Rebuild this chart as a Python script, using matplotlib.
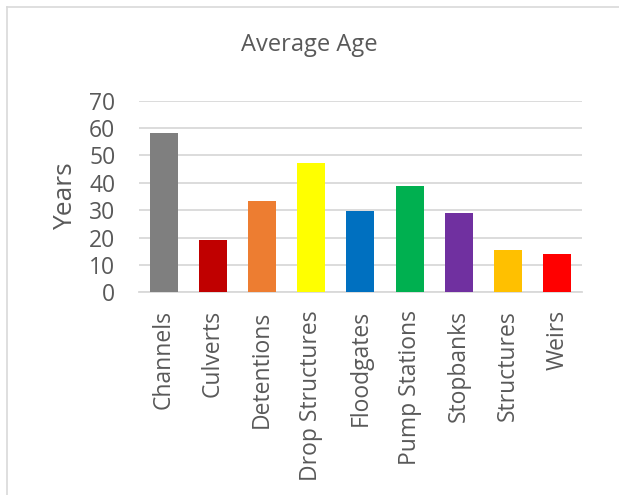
import numpy as np
import matplotlib
matplotlib.use('Agg')
import matplotlib.pyplot as plt
from matplotlib.lines import Line2D

plt.rcParams['font.family'] = ['Open Sans', 'DejaVu Sans']

categories = ['Channels', 'Culverts', 'Detentions', 'Drop Structures', 'Floodgates',
              'Pump Stations', 'Stopbanks', 'Structures', 'Weirs']
avg_age = [58.2, 19.1, 33.3, 47.2, 29.7, 38.8, 29.0, 15.4, 14.0]
bar_colors = ['#7f7f7f', '#c00000', '#ed7d31', '#ffff00', '#0070c0',
              '#00b050', '#7030a0', '#ffc000', '#ff0000']
yticks = [0, 10, 20, 30, 40, 50, 60, 70]

txt = '#595959'

fig = plt.figure(figsize=(6.19, 4.95), dpi=100)
ax = fig.add_axes([0.2246, 0.4095, 0.7154, 0.3871])

x = np.arange(len(categories))
ax.bar(x, avg_age, width=0.57, color=bar_colors, zorder=3)

ax.set_xlim(-0.5, len(categories) - 0.5)
ax.set_ylim(0, 70)
ax.set_yticks(yticks)
ax.set_xticks(x)
ax.set_xticklabels(categories, rotation=90, fontsize=16.5, color=txt)
ax.tick_params(axis='y', labelsize=16.5, labelcolor=txt, length=0, pad=17)
ax.tick_params(axis='x', length=0, pad=13)
ax.grid(axis='y', color='#d9d9d9', linewidth=1.3, zorder=0)

for s in ['top', 'right', 'left']:
    ax.spines[s].set_visible(False)
ax.spines['bottom'].set_color('#d9d9d9')
ax.spines['bottom'].set_linewidth(1.3)

ax.set_ylabel('Years', fontsize=19, color=txt, labelpad=8)
fig.text(0.5, 0.91, 'Average Age', ha='center', va='center', fontsize=17, color=txt)

# chart border (left and top edges visible)
fig.add_artist(Line2D([0.012, 0.012], [0, 0.985], transform=fig.transFigure, color='#d9d9d9', lw=1.2))
fig.add_artist(Line2D([0.012, 1.0], [0.985, 0.985], transform=fig.transFigure, color='#d9d9d9', lw=1.2))

fig.savefig('out.png', dpi=100)
